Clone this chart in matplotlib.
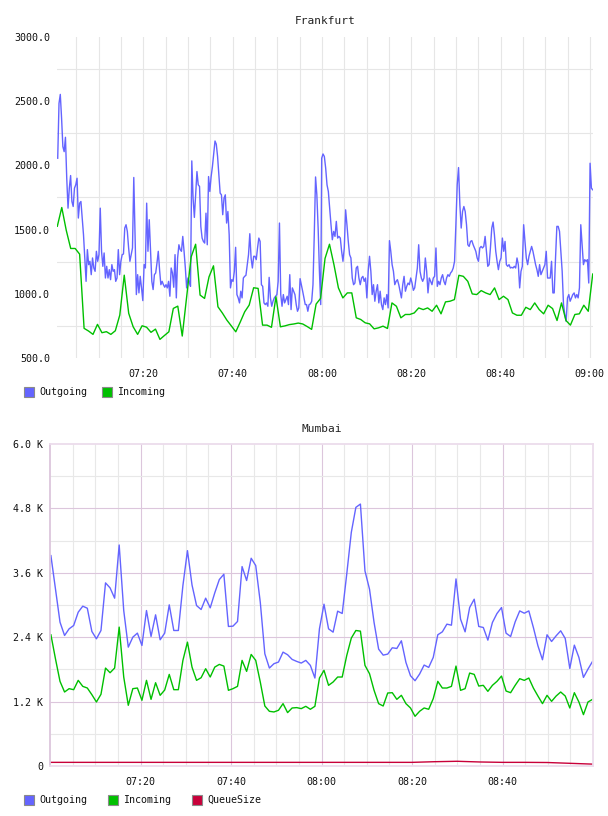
import matplotlib
matplotlib.use("Agg")
import matplotlib.pyplot as plt
import numpy as np
from matplotlib.patches import Rectangle
from matplotlib.ticker import FuncFormatter

W, H = 608, 816

# ---- Frankfurt (minutes after 07:00) ----
fra_out_a = [
    2056, 2483, 2553, 2367, 2146, 2107, 2219, 1900, 1667, 1823,
    1921, 1719, 1680, 1823, 1849, 1900, 1590, 1706, 1719, 1590,
    1460, 1279, 1097, 1344, 1227, 1253, 1149, 1279, 1201, 1175,
    1331, 1253, 1305, 1667, 1331, 1214, 1318, 1123, 1214, 1123,
    1188, 1110, 1227, 1175, 1188, 1097, 1123, 1344, 1149, 1253,
    1305, 1310, 1512, 1538, 1486, 1357, 1253, 1305, 1357, 1906,
    1434, 994, 1149, 1007, 1136, 1046, 947, 1227, 1201, 1706,
    1331, 1577, 1331, 1097, 1033, 1149, 1162, 1240, 1331, 1188,
    1071, 1097, 1071, 1051, 1071, 1046, 1097, 981, 1201, 1162,
    1051, 1305, 968, 1279, 1382, 1344, 1331, 1447, 1331, 1201,
    1046, 1123, 1097, 1058, 2035, 1745, 1595, 1771, 1952, 1849,
    1836, 1525, 1434, 1408, 1395, 1628, 1382, 1913, 1797, 1913,
    1991, 2094, 2190, 2165, 2069, 1926, 1784, 1771, 1616, 1745,
    1771, 1551, 1641, 1460, 1046, 1110, 1097, 1175, 1362, 994,
    968, 929, 1020, 968, 1123, 1136, 1144, 1227, 1305, 1468,
    1279, 1201, 1292, 1292, 1266, 1357, 1434, 1408, 1071, 1058,
    929, 916, 929, 903, 1128, 968, 903, 942, 968, 981,
    994, 1097, 1551, 994, 903, 994, 929, 955, 981, 916,
    1149, 877, 1046, 1020, 994, 916, 864, 890, 1118, 1071,
    1020, 968, 916, 916, 864, 916, 921, 942, 1071, 1460,
    1910, 1771, 1512, 1175, 916,
]
fra_out_b = [
    2056, 2089, 2069, 1978, 1849, 1797, 1667, 1538, 1421, 1486,
    1447, 1564, 1434, 1447, 1434, 1331, 1253, 1357, 1654, 1538,
    1408, 1305, 1279, 1123, 1071, 1084, 1201, 1214, 1123, 1071,
    1123, 1136, 1097, 1123, 968, 1175, 1292, 1175, 994, 1071,
    942, 1020, 1071, 929, 1020, 916, 877, 968, 916, 994,
    890, 1414, 1331, 1227, 1175, 1071, 1097, 1110, 1071, 1020,
    968, 1071, 1136, 1020, 1058, 1084, 1071, 1123, 1084, 1027,
    1046, 1123, 1201,
    1382, 1175, 1123, 1097, 1123, 1279, 1175, 1007, 1123, 1097,
    1071, 1123, 1136, 1357, 1058, 1097, 1071, 1123, 1149, 1097,
    1071, 1123, 1149, 1136, 1162, 1175, 1201, 1253,
    1538, 1849, 1983, 1693, 1512, 1641, 1680, 1641, 1538, 1382,
    1369, 1408, 1414, 1382, 1357, 1331, 1279, 1253, 1357, 1369,
    1357, 1369, 1447, 1331, 1214, 1227, 1357, 1512, 1559, 1460,
    1331, 1253, 1188, 1253, 1279, 1434, 1331, 1408, 1227, 1214,
    1227, 1201, 1206, 1201, 1214, 1201, 1279, 1227, 1046, 1175,
    1214, 1538, 1408, 1279, 1227, 1292, 1331, 1369, 1331, 1279,
    1227, 1188, 1136, 1227, 1149, 1175, 1201, 1227, 1331, 1123,
    1123, 1123, 1253, 1007, 1007, 1279, 1525, 1525, 1486, 1331,
    1175, 916, 838, 786, 968, 994, 942, 968, 994, 1007,
    968, 994, 968, 1046, 1538, 1382, 1227, 1266, 1253, 1266,
    1084, 2017, 1823, 1810,
]
fra_in = [
    1526, 1672, 1495, 1353, 1353, 1309, 731, 710, 684, 762,
    697, 705, 684, 712, 834, 1145, 848, 743, 684, 751,
    740, 700, 725, 645, 675, 704, 886, 904, 671, 980,
    1288, 1386, 990, 964, 1132, 1218, 899, 850, 795, 750,
    704, 780, 860, 912, 1047, 1042, 756, 756, 739, 977,
    743, 750, 760, 765, 772, 765, 745, 723, 920, 964,
    1275, 1386, 1227, 1046, 968, 1007, 1007, 813, 800, 774,
    766, 727, 735, 748, 730, 929, 903, 813, 839, 839,
    851, 890, 877, 890, 864, 911, 844, 937, 942, 955,
    1144, 1136, 1097, 999, 994, 1025, 1007, 994, 1046, 955,
    981, 955, 851, 833, 833, 895, 877, 929, 877, 844,
    911, 885, 792, 929, 792, 756, 839, 844, 911, 864,
    1154,
]

# ---- Mumbai (one sample per minute) ----
mum_out = [
    3920, 3300, 2680, 2432, 2556, 2618, 2866, 2978, 2940, 2507,
    2370, 2525, 3412, 3319, 3127, 4118, 2897, 2215, 2401, 2476,
    2246, 2897, 2414, 2817, 2352, 2476, 3003, 2525, 2525, 3362,
    4013, 3374, 2990, 2916, 3127, 2947, 3226, 3474, 3573, 2600,
    2606, 2693, 3716, 3456, 3871, 3735, 3052, 2091, 1825, 1906,
    1937, 2122, 2073, 1986, 1949, 1918, 1968, 1875, 1639, 2557,
    3015, 2556, 2494, 2885, 2842, 3579, 4354, 4819, 4881, 3635,
    3294, 2674, 2178, 2066, 2085, 2203, 2190, 2333, 1930, 1682,
    1589, 1713, 1881, 1837, 2023, 2445, 2500, 2643, 2624, 3486,
    2736, 2500, 2953, 3108, 2600, 2581, 2345, 2674, 2841, 2953,
    2475, 2413, 2686, 2890, 2847, 2890, 2581, 2240, 1980, 2445,
    2320, 2426, 2519, 2376, 1818, 2252, 2023, 1651, 1806, 1949,
]
mum_in = [
    2445, 1998, 1577, 1379, 1441, 1422, 1596, 1484, 1453, 1329,
    1193, 1336, 1825, 1738, 1825, 2588, 1658, 1131, 1441, 1453,
    1224, 1596, 1242, 1552, 1317, 1416, 1707, 1422, 1422, 1968,
    2308, 1843, 1596, 1645, 1813, 1658, 1843, 1893, 1862, 1410,
    1441, 1484, 1968, 1763, 2079, 1968, 1565, 1118, 1019, 1007,
    1038, 1162, 995, 1081, 1088, 1069, 1112, 1057, 1112, 1639,
    1782, 1503, 1565, 1658, 1658, 2060, 2383, 2525, 2513, 1875,
    1720, 1410, 1162, 1118, 1360, 1366, 1242, 1317, 1162, 1081,
    926, 1019, 1081, 1057, 1255, 1577, 1453, 1453, 1484, 1862,
    1410, 1441, 1732, 1707, 1490, 1503, 1391, 1503, 1577, 1676,
    1397, 1366, 1503, 1627, 1596, 1639, 1453, 1304, 1162, 1317,
    1205, 1304, 1379, 1304, 1081, 1366, 1193, 957, 1193, 1242,
]
# queue size, every 5 minutes from 07:00
mum_queue = [68, 68, 68, 68, 68, 68, 68, 68, 68, 68, 68, 68, 68, 68, 68, 68, 68,
             80, 88, 75, 68, 68, 65, 50, 35]

BLUE = "#6464ff"
GREEN = "#00c000"
RED = "#c8003a"

fra_t_out = np.concatenate([np.linspace(0.82, 59.72, len(fra_out_a)),
                            np.linspace(59.94, 120.64, len(fra_out_b))])
fra_t_in = np.linspace(0.73, 120.64, len(fra_in))
mum_t = np.linspace(0.2, 119.9, len(mum_out))
mum_tq = np.linspace(0.2, 119.9, len(mum_queue))

plt.rcParams["font.family"] = ["DejaVu Sans Mono"]
plt.rcParams["font.size"] = 7

fig = plt.figure(figsize=(W / 100, H / 100), dpi=100)


def hhmm(v, pos):
    m = int(round(v))
    return f"{7 + m // 60:02d}:{m % 60:02d}"


def px_axes(left, top, right, bottom):
    return fig.add_axes([left / W, 1 - bottom / H, (right - left) / W, (bottom - top) / H])


def legend_row(y, items):
    for x, color, label in items:
        fig.add_artist(Rectangle((x / W, 1 - (y + 5) / H), 10 / W, 10 / H,
                                 transform=fig.transFigure, fc=color, ec="#8a8a8a", lw=0.8))
        fig.text((x + 15) / W, 1 - y / H, label, ha="left", va="center",
                 fontsize=7.2, color="#111111")


# Frankfurt
ax1 = px_axes(57, 37, 593, 358)
ax1.plot(fra_t_out, fra_out_a + fra_out_b, color=BLUE, lw=1.0)
ax1.plot(fra_t_in, fra_in, color=GREEN, lw=1.0)
ax1.set_xlim(0.66, 120.7)
ax1.set_ylim(500, 3000)
ax1.set_yticks([500, 1000, 1500, 2000, 2500, 3000])
ax1.yaxis.set_major_formatter(FuncFormatter(lambda v, p: f"{v:.1f}"))
ax1.set_xticks([20, 40, 60, 80, 100, 120])
ax1.xaxis.set_major_formatter(FuncFormatter(hhmm))
for t in range(5, 121, 5):
    ax1.axvline(t, color="#e6e6e6", lw=0.8, zorder=0)
for v in [750, 1250, 1750, 2250, 2750]:
    ax1.axhline(v, color="#e6e6e6", lw=0.8, zorder=0)
for s in ax1.spines.values():
    s.set_visible(False)
ax1.tick_params(length=0, labelsize=7.2, colors="#111111")
ax1.tick_params(axis="x", pad=8)
ax1.tick_params(axis="y", pad=5)
ax1.set_title("Frankfurt", fontsize=8, color="#222222", pad=9)

legend_row(392, [(24, BLUE, "Outgoing"), (102, GREEN, "Incoming")])

# Mumbai
ax2 = px_axes(50, 444, 593, 766)
ax2.plot(mum_t, mum_out, color=BLUE, lw=1.0)
ax2.plot(mum_t, mum_in, color=GREEN, lw=1.0)
ax2.plot(mum_tq, mum_queue, color=RED, lw=1.0)
ax2.set_xlim(0, 120)
ax2.set_ylim(0, 6000)
ax2.set_yticks([0, 1200, 2400, 3600, 4800, 6000])
ax2.set_yticklabels(["0", "1.2 K", "2.4 K", "3.6 K", "4.8 K", "6.0 K"])
ax2.set_xticks([20, 40, 60, 80, 100])
ax2.xaxis.set_major_formatter(FuncFormatter(hhmm))
for t in range(5, 120, 5):
    purple = t % 20 == 0
    ax2.axvline(t, color="#dcc6dc" if purple else "#e8e8e8", lw=0.8, zorder=0)
for v in range(600, 6000, 600):
    purple = v % 1200 == 0
    ax2.axhline(v, color="#dcc6dc" if purple else "#e8e8e8", lw=0.8, zorder=0)
for s in ax2.spines.values():
    s.set_color("#ecdcec")
    s.set_linewidth(1.3)
ax2.spines["left"].set_color("#dcc6dc")
ax2.tick_params(length=0, labelsize=7.2, colors="#111111")
ax2.tick_params(axis="x", pad=8)
ax2.tick_params(axis="y", pad=5)
ax2.set_title("Mumbai", fontsize=8, color="#222222", pad=9)

legend_row(800, [(24, BLUE, "Outgoing"), (108, GREEN, "Incoming"), (192, RED, "QueueSize")])

fig.savefig("out.png", dpi=100)
